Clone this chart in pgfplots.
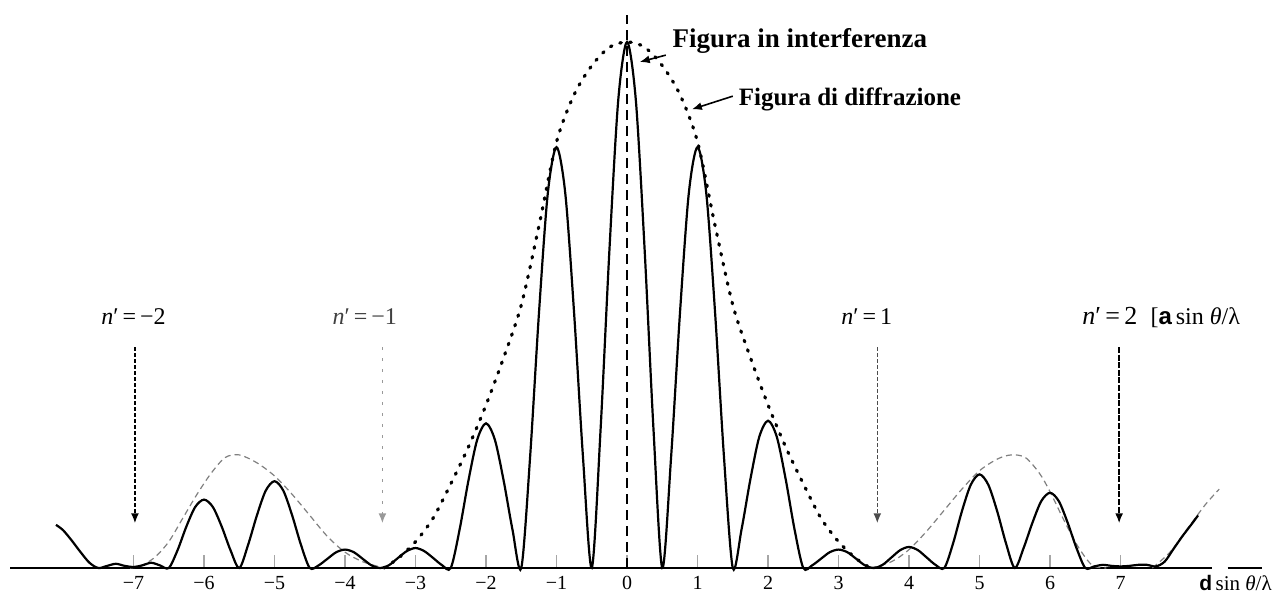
\documentclass[border=0pt]{standalone}
\usepackage{pgfplots}
\pgfplotsset{compat=1.18}
\usepackage{fontspec}
\setmainfont{Liberation Serif}
\setsansfont{Liberation Sans}
\usetikzlibrary{arrows.meta}
\begin{document}
\begin{tikzpicture}
\begin{axis}[
  x=35.25pt, y=263pt,
  xmin=-8.894, xmax=9.191, ymin=-0.0532, ymax=1.0798,
  scale only axis,
  axis x line=middle, axis y line=none,
  axis line style={draw=none},
  xtick={-7,...,7},
  xticklabels={−7,−6,−5,−4,−3,−2,−1,0,1,2,3,4,5,6,7},
  tick align=inside,
  major tick length=6.5pt,
  xtick style={gray!70, line width=0.7pt},
  xticklabel style={font=\fontsize{10}{12}\selectfont, inner sep=4pt},
  clip=false,
]
\coordinate (bl) at (rel axis cs:0,0);
\coordinate (tr) at (rel axis cs:1,1);
% baseline
\draw[line width=1.2pt] (axis cs:-8.75,0) -- (axis cs:8.30,0);
\draw[line width=1.2pt] (axis cs:8.52,0) -- (axis cs:9.0,0);
% central dashed line
\addplot[black, line width=0.9pt, dash pattern=on 5pt off 3pt] coordinates {(0,0) (0,1.051)};
% main-lobe diffraction envelope (dotted)
\addplot[black, line width=1.6pt, line cap=round, dash pattern=on 0.8pt off 4.2pt, smooth] coordinates {
(-3.45,0) (-3.25,0.018) (-3,0.05) (-2.75,0.095) (-2.5,0.16) (-2.25,0.23) (-2,0.31) (-1.75,0.40) (-1.5,0.50) (-1.25,0.65) (-1,0.81) (-0.75,0.90) (-0.5,0.955) (-0.25,0.99) (0,1.0)
(0.25,0.99) (0.5,0.955) (0.75,0.90) (1,0.81) (1.25,0.65) (1.5,0.50) (1.75,0.40) (2,0.31) (2.25,0.23) (2.5,0.16) (2.75,0.095) (3,0.05) (3.25,0.018) (3.45,0)
};
% side-lobe envelopes (thin dashed)
\addplot[gray, line width=0.6pt, dash pattern=on 3pt off 2pt, smooth] coordinates {
(-7.05,0) (-6.9,0.004) (-6.7,0.02) (-6.5,0.05) (-6.3,0.095) (-6.1,0.14) (-5.9,0.18) (-5.7,0.21) (-5.5,0.215) (-5.25,0.2) (-5,0.175) (-4.75,0.14) (-4.5,0.10) (-4.25,0.06) (-4,0.03) (-3.75,0.012) (-3.45,0)
};
\addplot[gray, line width=0.6pt, dash pattern=on 3pt off 2pt, smooth] coordinates {
(3.45,0) (3.75,0.012) (4,0.035) (4.25,0.07) (4.5,0.11) (4.75,0.15) (5,0.185) (5.25,0.207) (5.45,0.215) (5.65,0.21) (5.85,0.18) (6,0.145) (6.2,0.09) (6.4,0.04) (6.6,0.005) (6.8,0)
};
\addplot[gray, line width=0.6pt, dash pattern=on 3pt off 2pt, smooth] coordinates {
(7.45,0) (7.7,0.03) (7.95,0.075) (8.2,0.12) (8.4,0.15)
};
% interference pattern
\addplot[black, line width=1.1pt, smooth] coordinates {
(-8.1,0.082) (-8.0,0.072) (-7.875,0.052) (-7.75,0.03) (-7.625,0.01) (-7.5,0.0) (-7.375,0.004) (-7.25,0.008) (-7.125,0.004) (-7,0.002) (-6.875,0.005) (-6.75,0.01) (-6.625,0.005) (-6.5,0)
(-6.375,0.034) (-6.25,0.079) (-6.125,0.116) (-6,0.13) (-5.875,0.116) (-5.75,0.079) (-5.625,0.034) (-5.5,0)
(-5.375,0.044) (-5.25,0.100) (-5.125,0.147) (-5,0.165) (-4.875,0.147) (-4.75,0.100) (-4.625,0.044) (-4.5,0)
(-4.375,0.005) (-4.25,0.0175) (-4.125,0.030) (-4,0.035) (-3.875,0.030) (-3.75,0.0175) (-3.625,0.005) (-3.5,0)
(-3.375,0.0055) (-3.25,0.019) (-3.125,0.032) (-3,0.038) (-2.875,0.032) (-2.75,0.019) (-2.625,0.0055) (-2.5,0)
(-2.375,0.073) (-2.25,0.166) (-2.125,0.244) (-2,0.275) (-1.875,0.244) (-1.75,0.166) (-1.625,0.073) (-1.5,0)
(-1.375,0.211) (-1.25,0.483) (-1.125,0.711) (-1,0.80) (-0.875,0.711) (-0.75,0.483) (-0.625,0.211) (-0.5,0)
(-0.375,0.264) (-0.25,0.604) (-0.125,0.889) (0,1) (0.125,0.889) (0.25,0.604) (0.375,0.264) (0.5,0)
(0.625,0.211) (0.75,0.483) (0.875,0.711) (1,0.80) (1.125,0.711) (1.25,0.483) (1.375,0.211) (1.5,0)
(1.625,0.074) (1.75,0.169) (1.875,0.249) (2,0.28) (2.125,0.249) (2.25,0.169) (2.375,0.074) (2.5,0)
(2.625,0.005) (2.75,0.0175) (2.875,0.030) (3,0.035) (3.125,0.030) (3.25,0.0175) (3.375,0.005) (3.5,0)
(3.625,0.006) (3.75,0.020) (3.875,0.034) (4,0.04) (4.125,0.034) (4.25,0.020) (4.375,0.006) (4.5,0)
(4.625,0.047) (4.75,0.108) (4.875,0.158) (5,0.178) (5.125,0.158) (5.25,0.108) (5.375,0.047) (5.5,0)
(5.625,0.038) (5.75,0.086) (5.875,0.127) (6,0.143) (6.125,0.127) (6.25,0.086) (6.375,0.038) (6.5,0)
(6.625,0.003) (6.75,0.006) (6.875,0.004) (7,0.003) (7.125,0.004) (7.25,0.006) (7.375,0.006) (7.5,0.003) (7.625,0.012) (7.75,0.036) (7.875,0.06) (8,0.082) (8.1,0.10)
};
% annotations
\node[anchor=base west, font=\fontsize{13.5}{15}\selectfont\bfseries, inner sep=0pt] at (axis cs:0.64,0.99) {Figura in interferenza};
\draw[-{Latex[length=5pt,width=4pt]}, line width=0.8pt] (axis cs:0.55,0.975) -- (axis cs:0.18,0.962);
\node[anchor=base west, font=\fontsize{12.5}{15}\selectfont\bfseries, inner sep=0pt] at (axis cs:1.58,0.88) {Figura di diffrazione};
\draw[-{Latex[length=5pt,width=4pt]}, line width=0.8pt] (axis cs:1.50,0.897) -- (axis cs:0.92,0.872);
% n' labels and arrows
\node[anchor=base, font=\fontsize{12}{14}\selectfont, inner sep=0pt] at (axis cs:-7.0,0.462) {\textit{n}′\,=\,−2};
\draw[dash pattern=on 2pt off 1pt, line width=0.8pt, -{Latex[length=5pt,width=4pt]}] (axis cs:-6.98,0.42) -- (axis cs:-6.98,0.085);
\node[anchor=base, font=\fontsize{12}{14}\selectfont, inner sep=0pt, text=black!75] at (axis cs:-3.72,0.462) {\textit{n}′\,=\,−1};
\draw[black!40, dash pattern=on 1.5pt off 4pt, line width=0.8pt, -{Latex[length=5pt,width=4pt]}] (axis cs:-3.47,0.42) -- (axis cs:-3.47,0.085);
\node[anchor=base, font=\fontsize{12}{14}\selectfont, inner sep=0pt] at (axis cs:3.4,0.462) {\textit{n}′\,=\,1};
\draw[black!70, dash pattern=on 2pt off 1pt, line width=0.8pt, -{Latex[length=5pt,width=4pt]}] (axis cs:3.55,0.42) -- (axis cs:3.55,0.085);
\node[anchor=base, font=\fontsize{13}{15}\selectfont, inner sep=0pt] at (axis cs:6.85,0.462) {\textit{n}′\,=\,2};
\draw[dash pattern=on 3pt off 0.8pt, line width=0.8pt, -{Latex[length=5pt,width=4pt]}] (axis cs:6.98,0.42) -- (axis cs:6.98,0.085);
\node[anchor=base west, font=\fontsize{12}{14}\selectfont, inner sep=0pt] at (axis cs:7.42,0.462) {[{\sffamily\bfseries a}\,sin \textit{θ}/λ};
\node[anchor=base east, font=\fontsize{10.5}{12}\selectfont, inner sep=0pt] at (axis cs:9.15,-0.043) {{\sffamily\bfseries d}\,sin \textit{θ}/λ};
\end{axis}
\pgfresetboundingbox
\path (bl) rectangle (tr);
\end{tikzpicture}
\end{document}
